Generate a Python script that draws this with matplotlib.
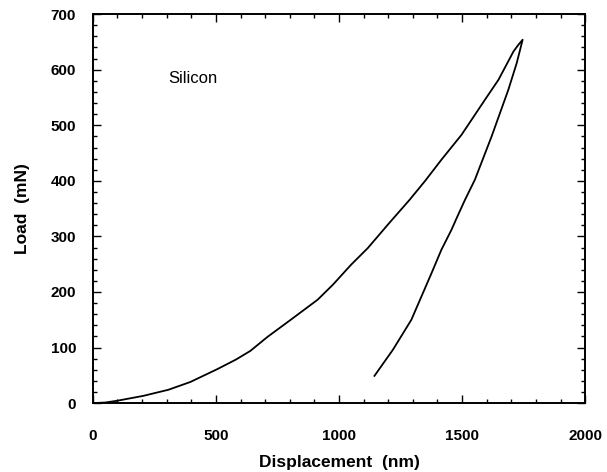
import numpy as np
import matplotlib.pyplot as plt
from matplotlib.ticker import MultipleLocator

plt.rcParams['font.family'] = ['Liberation Sans', 'DejaVu Sans']

# loading branch (displacement nm, load mN)
load_x = [0, 50, 96, 205, 307, 396, 505, 580, 640, 709, 804, 913, 975, 1049,
          1117, 1200, 1287, 1350, 1416, 1498, 1593, 1648, 1709, 1729, 1746]
load_y = [0, 1, 4, 13, 24, 38, 61, 78, 94, 119, 150, 186, 213, 249,
          279, 322, 366, 400, 438, 483, 546, 582, 633, 645, 654]

# unloading branch
unload_x = [1746, 1722, 1688, 1620, 1552, 1512, 1478, 1457, 1416, 1376,
            1294, 1219, 1144]
unload_y = [654, 612, 564, 480, 402, 366, 333, 312, 276, 234,
            150, 96, 49]

fig = plt.figure(figsize=(6.07, 4.72), dpi=100)
ax = fig.add_axes([0.153, 0.146, 0.811, 0.824])

ax.plot(load_x + unload_x[1:], load_y + unload_y[1:], color='black', lw=1.3)

ax.set_xlim(0, 2000)
ax.set_ylim(0, 700)
ax.xaxis.set_major_locator(MultipleLocator(500))
ax.xaxis.set_minor_locator(MultipleLocator(100))
ax.yaxis.set_major_locator(MultipleLocator(100))
ax.yaxis.set_minor_locator(MultipleLocator(20))
ax.tick_params(which='both', direction='in', top=True, right=True, width=1)
ax.tick_params(which='major', length=6)
ax.tick_params(which='minor', length=3)
ax.tick_params(axis='x', which='major', pad=19)
ax.tick_params(axis='y', which='major', pad=12)
for lab in ax.get_xticklabels() + ax.get_yticklabels():
    lab.set_fontsize(11)
    lab.set_fontweight('bold')
for s in ax.spines.values():
    s.set_linewidth(1.4)

ax.set_xlabel('Displacement  (nm)', fontsize=12.5, fontweight='bold', labelpad=8)
ax.set_ylabel('Load  (mN)', fontsize=12.5, fontweight='bold', labelpad=15)
ax.text(305, 585, 'Silicon', fontsize=12, va='center')

fig.savefig('out.png', dpi=100)
